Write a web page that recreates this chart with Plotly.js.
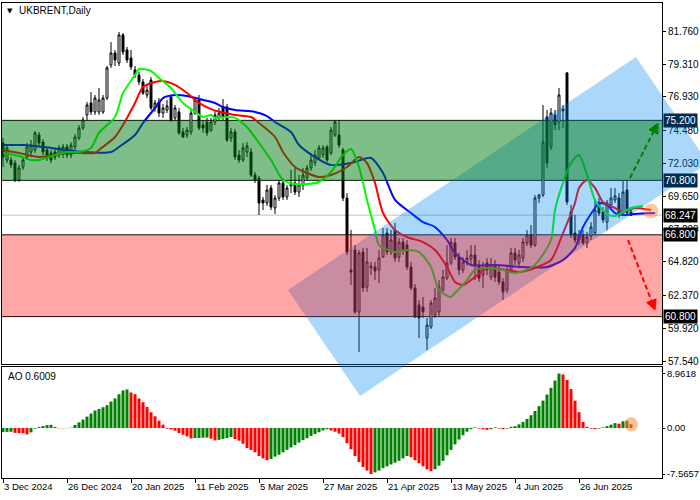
<!DOCTYPE html>
<html><head><meta charset="utf-8">
<script src="https://cdn.plot.ly/plotly-3.0.1.min.js"></script>
<style>html,body{margin:0;padding:0;background:#fff;}#chart{width:700px;height:500px;}</style>
</head><body><div id="chart"></div>
<script>
// ---------- data ----------
const tickBars = [0,16,32,48,64,80,96,112,128,144];
const tickLabels = ['3 Dec 2024','26 Dec 2024','20 Jan 2025','11 Feb 2025','5 Mar 2025','27 Mar 2025','21 Apr 2025','13 May 2025','4 Jun 2025','26 Jun 2025'];
const priceTicks = [57.54,59.92,62.37,64.82,67.20,69.65,72.03,74.48,76.93,79.31,81.76];
const aoTicks = [-7.5657,0,8.9618];
const aoTickLabels = ['-7.5657','0.00','8.9618'];

const opens = [
73.54,72.29,72.29,72.08,70.83,71.78,72.51,72.88,73.03,74.13,
73.61,73.03,72.81,72.88,72.66,72.73,73.25,72.66,73.25,73.91,
74.64,75.60,76.48,75.82,75.82,75.82,76.84,79.27,80.15,79.41,
81.47,80.37,79.78,78.90,78.53,78.02,77.06,78.16,76.11,76.55,
75.74,75.96,76.92,75.38,75.82,74.35,74.13,74.35,75.74,76.70,
74.86,75.08,74.49,75.08,75.38,76.18,76.18,73.91,74.35,72.66,
72.29,72.88,72.88,71.19,70.97,69.36,69.14,70.24,68.77,69.50,
70.61,69.58,70.39,70.61,69.94,70.46,70.97,71.71,72.07,72.44,
72.66,73.25,72.81,74.13,74.13,73.03,69.50,64.22,65.69,61.14,
65.54,62.97,64.37,64.44,64.22,65.17,66.93,65.54,67.15,65.17,
66.27,66.05,64.44,62.90,61.65,61.50,59.23,60.04,60.92,61.14,
62.75,63.63,64.73,66.20,65.17,64.22,64.73,65.03,65.32,64.59,
63.85,64.73,63.70,64.59,64.07,63.34,62.75,64.22,65.47,64.73,
65.10,66.20,66.79,66.05,69.50,69.72,75.45,73.25,75.60,75.08,
75.89,78.68,68.48,66.93,66.42,66.79,66.20,66.71,66.93,69.14,
68.48,67.74,68.99,69.36,69.50,68.40,70.09,68.48];
const highs = [
73.91,73.39,72.51,72.29,71.93,72.51,73.54,73.76,74.42,74.35,
73.83,73.25,73.03,73.10,73.39,73.47,73.47,73.61,74.20,74.86,
75.45,76.55,77.28,77.06,77.58,77.06,79.19,80.95,80.37,81.69,
81.61,80.59,80.37,79.19,78.75,78.24,77.80,78.38,76.70,76.84,
76.40,76.70,77.06,76.33,76.11,74.64,74.71,75.96,76.92,77.06,
75.23,75.38,75.38,75.96,76.11,76.77,76.40,74.64,74.57,73.03,
73.54,73.61,73.18,71.41,71.12,69.58,70.46,70.46,69.72,70.83,
70.97,70.46,71.56,71.71,71.19,71.71,71.93,72.81,73.03,73.39,
73.39,73.39,74.71,75.23,75.23,73.18,69.87,67.15,66.05,65.69,
65.84,65.84,64.81,64.81,65.69,67.30,67.30,67.15,67.67,66.57,
66.57,66.42,64.81,63.19,62.02,62.24,60.70,62.02,62.90,63.48,
64.22,66.05,66.57,66.57,65.47,65.17,65.69,66.05,66.05,64.95,
64.81,65.10,65.10,64.95,64.59,63.63,64.59,65.84,65.84,65.69,
66.57,67.15,67.52,69.72,69.80,76.33,75.96,76.11,75.96,77.58,
76.33,78.75,68.99,68.26,67.15,67.15,67.01,67.74,69.36,69.50,
68.84,69.36,70.24,70.24,69.87,70.75,70.83,68.62];
const lows = [
71.78,72.07,71.71,70.68,70.68,71.56,72.29,72.51,72.81,73.32,
72.66,72.22,72.07,72.29,72.44,72.44,72.44,72.44,73.03,73.76,
74.49,75.23,75.60,75.60,75.60,75.67,76.70,79.05,79.19,79.19,
80.00,79.41,78.90,78.31,77.80,77.06,76.84,75.96,75.82,75.45,
75.38,75.74,75.08,75.16,74.13,73.91,73.91,74.13,75.60,74.49,
74.28,74.06,74.35,74.86,75.23,75.23,73.61,73.61,72.29,72.07,
72.15,72.51,71.05,70.61,68.26,68.62,68.92,68.62,68.33,69.28,
69.36,69.36,69.87,69.72,69.58,70.09,70.83,71.49,71.85,72.29,
72.44,72.15,72.66,73.98,73.18,69.28,65.32,63.12,60.99,58.20,
62.61,62.61,63.85,63.48,63.26,65.10,65.32,65.32,64.81,64.81,
65.32,64.22,62.75,60.70,59.23,60.70,58.35,59.89,60.70,60.85,
62.61,63.48,64.59,64.95,63.85,64.00,64.52,64.66,63.48,63.34,
62.90,63.85,63.48,63.34,63.12,62.02,62.53,64.07,64.59,64.37,
64.81,65.98,65.84,65.91,69.14,69.58,71.71,73.03,74.49,74.49,
74.64,68.99,66.57,66.20,66.05,66.05,65.84,66.42,66.79,68.18,
67.67,67.15,68.77,69.14,68.04,68.18,68.26,68.18];
const closes = [
72.51,73.18,71.93,70.83,71.71,72.29,73.25,73.39,74.28,73.54,
72.88,72.44,72.29,72.51,73.18,73.25,72.66,73.39,73.98,74.64,
75.23,76.33,75.82,76.84,76.70,76.84,79.05,80.15,79.63,81.47,
80.22,79.63,79.12,78.53,78.02,77.21,77.43,76.11,76.48,75.74,
76.11,76.26,75.23,76.11,74.28,73.98,74.49,75.74,76.70,74.64,
74.64,74.28,75.08,75.60,75.74,75.45,73.76,74.35,72.51,72.29,
73.18,73.32,71.19,70.83,69.14,69.14,70.09,68.84,69.50,70.61,
69.58,70.24,70.61,69.94,70.46,71.19,71.71,72.29,72.66,73.18,
73.18,72.29,74.49,75.08,73.39,69.50,65.54,64.07,61.14,65.47,
62.90,64.81,64.52,64.15,65.10,66.79,65.54,66.42,65.10,66.27,
65.69,64.44,62.90,60.77,60.70,61.14,60.18,61.80,62.17,62.97,
63.70,64.73,66.27,65.17,64.22,64.81,65.10,65.32,64.59,63.63,
64.37,64.22,64.59,63.70,63.34,62.61,64.22,65.47,64.95,65.32,
66.27,66.79,66.05,69.50,69.72,73.61,72.07,75.74,74.86,77.06,
76.04,69.21,66.79,66.42,66.79,66.20,66.64,67.37,68.62,68.40,
67.89,69.14,69.50,69.65,68.26,69.94,68.40,68.247];

// Alligator lines (bar index, price)
const jawX = [0,5,12,20,27,29,33,35,38,40,43,46,49,53,55,58,63,66,68,72,74,78,82,87,92,95,98,102,105,108,111,113,117,123,130,136,140,143,145,148,149,151,153,155,158,163];
const jawY = [73.39,73.39,73.18,72.88,72.88,73.25,74.13,75.01,76.11,76.84,77.06,76.99,76.77,76.48,76.18,75.96,75.82,75.52,75.08,74.35,73.39,72.51,71.93,72.07,72.44,71.34,69.36,68.40,67.74,67.37,66.42,65.47,64.59,64.59,64.44,64.44,64.95,65.84,67.37,68.77,69.14,68.99,68.40,68.26,68.33,68.40];
const teethX = [0,4,9,16,23,24,28,30,33,35,38,40,43,46,49,52,58,62,64,68,70,73,76,79,82,86,89,91,93,95,98,101,105,108,111,113,115,118,121,126,129,133,137,140,143,144,146,148,150,153,155,158,162];
const teethY = [73.03,72.81,72.51,72.81,72.81,73.03,73.98,74.86,76.48,77.65,78.02,78.09,77.80,77.21,76.48,76.03,75.60,75.45,75.01,73.98,72.88,71.78,71.34,71.05,71.19,71.78,72.51,72.07,70.61,68.40,67.15,66.64,66.27,65.69,64.44,63.34,63.12,63.70,64.37,64.22,64.07,64.37,64.95,66.93,69.14,70.24,70.83,70.24,69.21,68.77,68.48,68.77,68.62];
const lipsX = [0,4,7,9,13,16,19,22,24,28,30,33,34,37,39,42,45,48,50,52,53,56,58,61,64,67,70,73,76,79,82,85,87,89,91,93,94,98,101,104,107,109,112,113,116,118,122,125,128,132,134,137,138,140,142,144,146,148,151,153,157,160];
const lipsY = [72.81,72.59,72.29,72.29,72.66,72.88,72.88,73.18,74.28,75.45,77.21,78.53,78.97,78.82,78.31,77.58,76.48,75.82,75.45,75.60,75.38,75.45,75.38,74.71,73.54,72.29,70.83,70.53,70.53,70.68,71.41,72.66,73.10,71.78,69.36,67.15,66.05,65.54,65.69,65.54,64.44,62.75,62.24,62.53,63.48,64.22,64.37,64.22,64.00,64.37,64.95,66.42,68.62,70.61,72.07,72.66,71.19,69.36,68.33,68.18,68.77,68.92];

// Awesome Oscillator
const aoValues = [
-0.66,-0.64,-0.62,-0.80,-0.83,-0.85,-1.05,-0.72,-0.11,0.17,
0.33,0.48,0.52,0.17,-0.05,-0.04,-0.03,0.05,0.50,0.94,
1.38,1.87,2.37,2.87,3.14,3.42,3.75,4.35,4.85,5.56,
6.17,6.34,5.84,5.56,4.85,4.24,3.47,2.59,1.93,1.21,
0.55,-0.11,-0.22,-0.44,-0.83,-1.10,-1.38,-1.71,-1.66,-1.63,
-1.60,-1.57,-1.75,-2.04,-1.95,-1.80,-1.65,-1.50,-1.82,-2.09,
-2.59,-3.31,-3.60,-4.00,-4.60,-5.00,-5.30,-5.10,-4.70,-4.40,
-4.00,-3.60,-3.20,-2.80,-2.40,-2.00,-1.70,-1.30,-1.00,-0.70,
-0.40,-0.20,-0.40,-0.60,-0.90,-1.50,-2.50,-3.50,-4.60,-5.60,
-6.40,-7.00,-7.5657,-7.30,-7.00,-6.60,-6.30,-6.00,-5.70,-5.40,
-5.00,-4.60,-4.80,-5.30,-5.80,-6.30,-6.80,-7.10,-6.80,-6.20,
-5.40,-4.50,-3.60,-2.70,-1.90,-1.20,-0.60,-0.20,0.10,-0.10,
-0.20,-0.30,-0.20,0.10,-0.10,-0.20,-0.10,0.20,0.30,0.60,
1.00,1.50,2.10,2.80,3.60,4.50,5.50,6.60,7.80,8.9618,
8.80,7.90,6.40,4.50,2.60,1.00,0.20,-0.10,-0.20,-0.10,
0.10,0.30,0.55,0.80,0.70,1.10,1.20,0.6009];

// Levels, channel and arrows
const greenZone = [70.8, 75.2];
const redZone = [60.8, 66.8];
const levelLines = [75.2, 70.8, 66.8, 60.8];
const currentPrice = 68.247;
const channelBars = [71.25, 158.25, 176.25, 89.25];
const channelPrices = [62.75, 79.85, 72.07, 54.97];
const upArrowBars = [156.75, 163.75], upArrowPrices = [70.97, 75.0];
const downArrowBars = [156.25, 163.0], downArrowPrices = [66.42, 61.28];
const highlightBar = 162, highlightPrice = 68.55;

// ---------- chart ----------
const W = 700, H = 500;
const M = {l:2, r:38, t:3, b:22};
const xRange = [-0.25, 164.75];
const yMainRange = [57.32, 83.815];
const yAORange = [-8.22, 10.03];
const mainDomain = [0.24, 1];
const aoDomain = [0, 0.2337];
const FONT = 'Liberation Sans, Arial, sans-serif';

const idx = opens.map((_, i) => i);
const plotW = W - M.l - M.r, plotH = H - M.t - M.b;
const pxPerBar = plotW / (xRange[1] - xRange[0]);
const pxPerPrice = plotH * (mainDomain[1] - mainDomain[0]) / (yMainRange[1] - yMainRange[0]);
const xPaper = b => (b - xRange[0]) / (xRange[1] - xRange[0]);
const yPaper = p => mainDomain[0] + (mainDomain[1] - mainDomain[0]) * (p - yMainRange[0]) / (yMainRange[1] - yMainRange[0]);

const aoColors = aoValues.map((v, i) => (i === 0 || v >= aoValues[i - 1]) ? '#008000' : '#ff0000');

const traces = [
  {type:'candlestick', x:idx, open:opens, high:highs, low:lows, close:closes, xaxis:'x', yaxis:'y',
   increasing:{line:{color:'#000', width:1}, fillcolor:'#ffffff'},
   decreasing:{line:{color:'#000', width:1}, fillcolor:'#000000'},
   whiskerwidth:0, hoverinfo:'skip', showlegend:false},
  {type:'scatter', mode:'lines', x:jawX, y:jawY, xaxis:'x', yaxis:'y', line:{color:'#0000ff', width:2, shape:'spline', smoothing:0.7}, hoverinfo:'skip'},
  {type:'scatter', mode:'lines', x:teethX, y:teethY, xaxis:'x', yaxis:'y', line:{color:'#ff0000', width:2, shape:'spline', smoothing:0.7}, hoverinfo:'skip'},
  {type:'scatter', mode:'lines', x:lipsX, y:lipsY, xaxis:'x', yaxis:'y', line:{color:'#00ff00', width:2, shape:'spline', smoothing:0.7}, hoverinfo:'skip'},
  {type:'scatter', mode:'markers', x:[highlightBar], y:[highlightPrice], xaxis:'x', yaxis:'y', marker:{size:15, color:'rgba(255,130,50,0.45)'}, hoverinfo:'skip'},
  {type:'bar', x:idx, y:aoValues, xaxis:'x2', yaxis:'y2', width:0.75, marker:{color:aoColors, line:{width:0}}, hoverinfo:'skip'},
  {type:'scatter', mode:'markers', x:[idx[idx.length-1]], y:[aoValues[aoValues.length-1]], xaxis:'x2', yaxis:'y2', marker:{size:14, color:'rgba(255,130,50,0.5)'}, hoverinfo:'skip'}
];

function arrowHead(bars, prices, color) {
  const dx = (bars[1] - bars[0]) * pxPerBar, dy = (prices[1] - prices[0]) * pxPerPrice;
  const len = Math.hypot(dx, dy), ux = dx / len, uy = dy / len;
  const L = 10, Wd = 5;
  const bx = dx - L * ux, by = dy - L * uy;
  const pts = [[dx, dy], [bx - Wd * uy, by + Wd * ux], [bx + Wd * uy, by - Wd * ux]];
  const path = pts.map((p, k) => (k ? 'L' : 'M') + (bars[0] + p[0] / pxPerBar) + ',' + (prices[0] + p[1] / pxPerPrice)).join(' ') + ' Z';
  const endB = bars[0] + bx / pxPerBar, endP = prices[0] + by / pxPerPrice;
  return [
    {type:'line', xref:'x', yref:'y', x0:bars[0], y0:prices[0], x1:endB, y1:endP, line:{color:color, width:2, dash:'5px,3px'}, layer:'above'},
    {type:'path', xref:'x', yref:'y', path:path, fillcolor:color, line:{color:color, width:1}, layer:'above'}
  ];
}

const shapes = [];
levelLines.forEach(v => shapes.push({type:'line', xref:'paper', x0:0, x1:1, yref:'y', y0:v, y1:v, line:{color:'#000', width:1}, layer:'below'}));
shapes.push({type:'line', xref:'paper', x0:0, x1:1, yref:'y', y0:currentPrice, y1:currentPrice, line:{color:'#c0c0c0', width:1}, layer:'below'});
const chPath = channelBars.map((b, k) => (k ? 'L' : 'M') + xPaper(b) + ',' + yPaper(channelPrices[k])).join(' ') + ' Z';
shapes.push({type:'path', xref:'paper', yref:'paper', path:chPath, fillcolor:'rgba(0,134,240,0.33)', line:{width:0}, layer:'above'});
shapes.push({type:'rect', xref:'paper', x0:0, x1:1, yref:'y', y0:greenZone[0], y1:greenZone[1], fillcolor:'rgba(0,125,20,0.5)', line:{width:0}, layer:'above'});
shapes.push({type:'rect', xref:'paper', x0:0, x1:1, yref:'y', y0:redZone[0], y1:redZone[1], fillcolor:'rgba(255,0,0,0.35)', line:{width:0}, layer:'above'});
shapes.push(...arrowHead(upArrowBars, upArrowPrices, '#008000'));
shapes.push(...arrowHead(downArrowBars, downArrowPrices, '#ff0000'));

const annotations = [
  {xref:'paper', yref:'paper', x:(10 - M.l) / plotW, y:(H - M.b - 11) / plotH, text:'▼', showarrow:false, xanchor:'center', yanchor:'middle', font:{family:'DejaVu Sans', size:7, color:'#000'}},
  {xref:'paper', yref:'paper', x:(17 - M.l) / plotW, y:(H - M.b - 10) / plotH, text:'UKBRENT,Daily', showarrow:false, xanchor:'left', yanchor:'middle', font:{family:FONT, size:10, color:'#000'}},
  {xref:'paper', yref:'paper', x:(6 - M.l) / plotW, y:(H - M.b - 376) / plotH, text:'AO 0.6009', showarrow:false, xanchor:'left', yanchor:'middle', font:{family:FONT, size:10, color:'#000'}}
];
[[75.2,'#002c4f'],[70.8,'#002c4f'],[currentPrice,'#000'],[66.8,'#000'],[60.8,'#000']].forEach(([v, bg]) => {
  annotations.push({xref:'paper', yref:'y', x:1, y:v, xshift:1, text:v.toFixed(3), showarrow:false, xanchor:'left', yanchor:'middle',
    bgcolor:bg, borderpad:1, font:{family:FONT, size:10, color:'#fff'}});
});

const axisCommon = {showgrid:false, zeroline:false, showline:true, mirror:true, linecolor:'#000', linewidth:1, automargin:false, fixedrange:true,
  tickfont:{family:FONT, size:10, color:'#000'}, tickcolor:'#000'};

const layout = {
  width:W, height:H, margin:M, paper_bgcolor:'#fff', plot_bgcolor:'#fff', showlegend:false,
  font:{family:FONT, size:10, color:'#000'},
  xaxis:Object.assign({}, axisCommon, {domain:[0,1], range:xRange, anchor:'y', showticklabels:false, ticks:'', rangeslider:{visible:false}}),
  yaxis:Object.assign({}, axisCommon, {domain:mainDomain, range:yMainRange, anchor:'x', side:'right', tickvals:priceTicks, ticktext:priceTicks.map(v => v.toFixed(3)), ticks:'outside', ticklen:3}),
  xaxis2:Object.assign({}, axisCommon, {domain:[0,1], range:xRange, anchor:'y2', tickvals:tickBars, ticktext:tickLabels, ticks:'outside', ticklen:4, tickangle:0, ticklabelposition:'outside right', tickfont:{family:FONT, size:9.5, color:'#000'}}),
  yaxis2:Object.assign({}, axisCommon, {domain:aoDomain, range:yAORange, anchor:'x2', side:'right', tickvals:aoTicks, ticktext:aoTickLabels, ticks:'outside', ticklen:2, tickfont:{family:FONT, size:9.5, color:'#000'}}),
  shapes:shapes, annotations:annotations
};

Plotly.newPlot('chart', traces, layout, {displayModeBar:false, staticPlot:true});
</script>
</body></html>
